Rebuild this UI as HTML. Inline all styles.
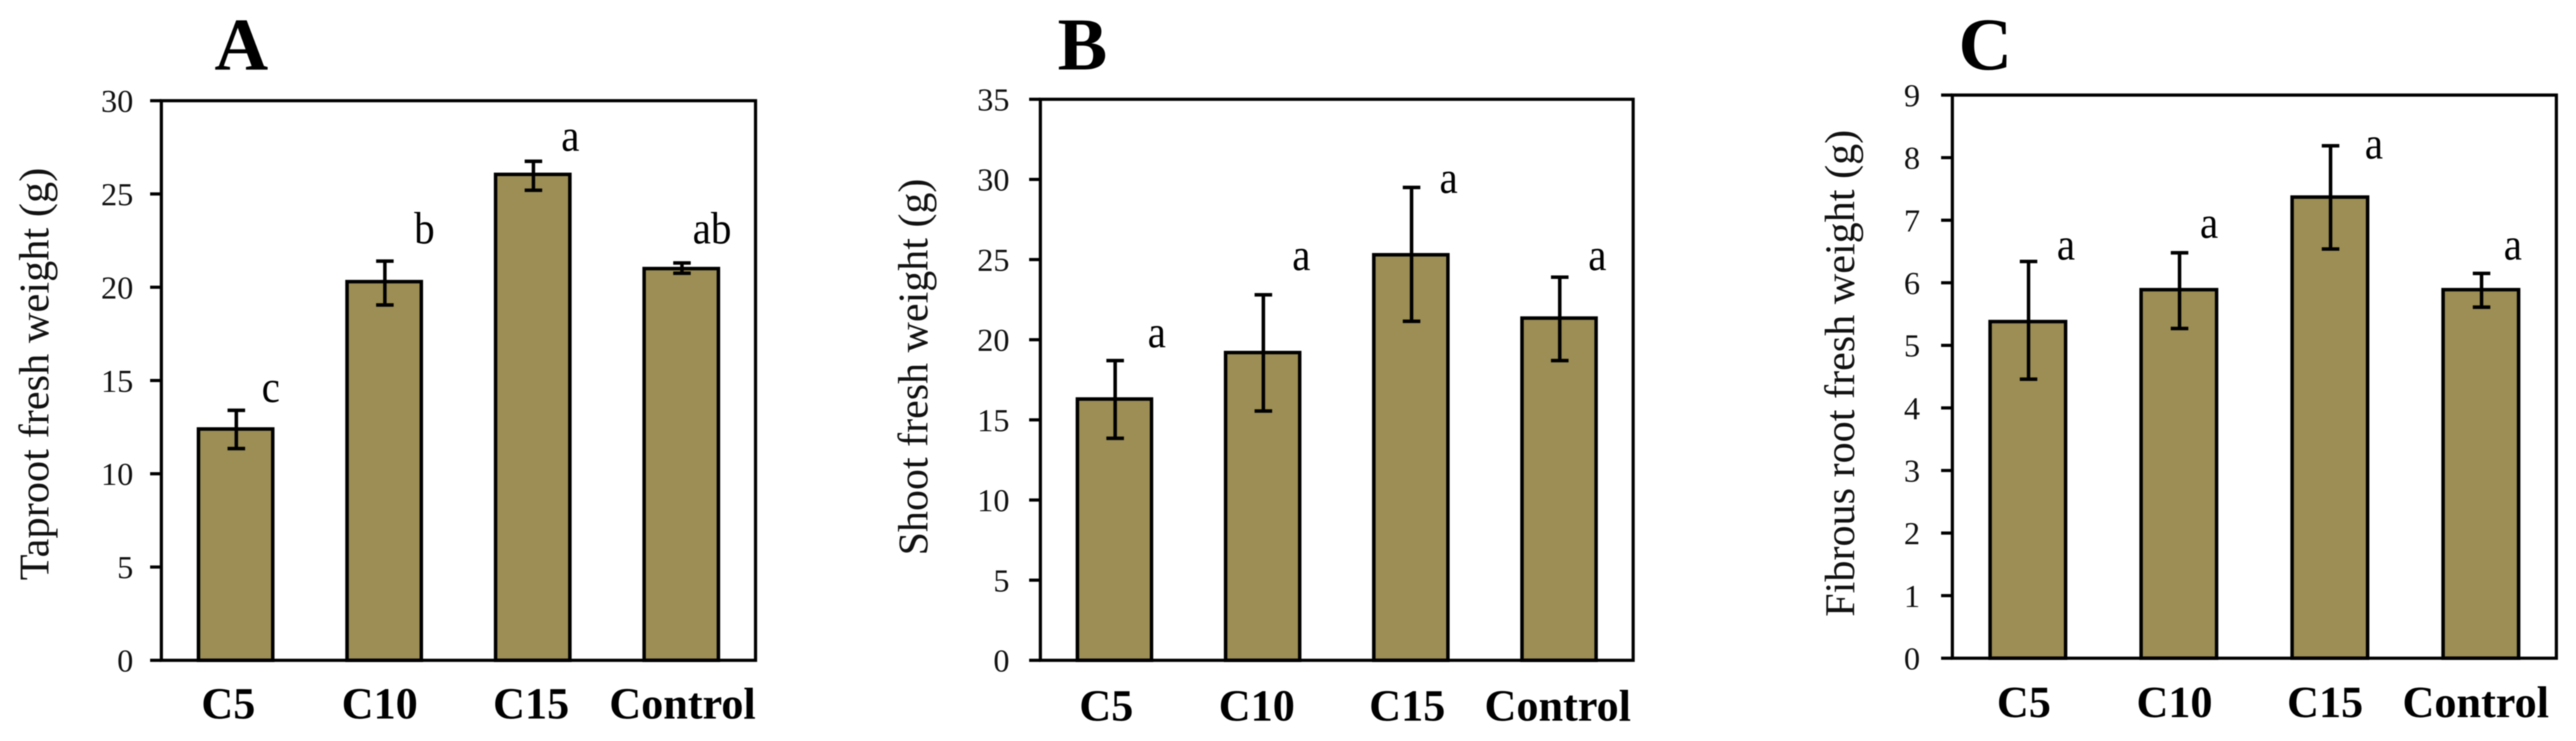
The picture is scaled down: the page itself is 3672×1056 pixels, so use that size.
<!DOCTYPE html>
<html lang="en">
<head>
<meta charset="utf-8">
<title>Fresh weight bar charts</title>
<style>
  html, body { margin: 0; padding: 0; background: #fff; }
  #figure { display: block; width: 3672px; height: 1056px; filter: blur(0.7px); }
  text { font-family: "Liberation Serif", serif; fill: #000; }
  .panel-title { font-size: 106px; font-weight: bold; text-anchor: middle; }
  .sig { font-size: 65px; text-anchor: middle; }
  .tick-label { font-size: 46px; text-anchor: end; fill: #111; }
  .cat-label { font-size: 63px; font-weight: bold; text-anchor: middle; }
  .y-title { font-size: 60px; text-anchor: middle; fill: #111; }
</style>
</head>
<body>
<svg id="figure" xmlns="http://www.w3.org/2000/svg" width="3672" height="1056" viewBox="0 0 3672 1056">
  <rect width="3672" height="1056" fill="#fff"/>

  <g id="panel-a">
    <text class="panel-title" x="344" y="99">A</text>
    <text class="y-title" transform="translate(69 533) rotate(-90)" textLength="588" lengthAdjust="spacingAndGlyphs">Taproot fresh weight (g)</text>
    <text class="sig" transform="translate(386 573) scale(0.9 1)">c</text>
    <text class="sig" transform="translate(605 347) scale(0.9 1)">b</text>
    <text class="sig" transform="translate(813 215) scale(0.9 1)">a</text>
    <text class="sig" transform="translate(1015 347) scale(0.9 1)">ab</text>
  </g>

  <g id="panel-b">
    <text class="panel-title" x="1543" y="99">B</text>
    <text class="y-title" transform="translate(1322 523) rotate(-90)" textLength="537" lengthAdjust="spacingAndGlyphs">Shoot fresh weight (g)</text>
    <text class="sig" transform="translate(1649 495) scale(0.9 1)">a</text>
    <text class="sig" transform="translate(1855 385) scale(0.9 1)">a</text>
    <text class="sig" transform="translate(2065 275) scale(0.9 1)">a</text>
    <text class="sig" transform="translate(2277 385) scale(0.9 1)">a</text>
  </g>

  <g id="panel-c">
    <text class="panel-title" x="2830" y="99">C</text>
    <text class="y-title" transform="translate(2643 532) rotate(-90)" textLength="694" lengthAdjust="spacingAndGlyphs">Fibrous root fresh weight (g)</text>
    <text class="sig" transform="translate(2945 370) scale(0.9 1)">a</text>
    <text class="sig" transform="translate(3149 339) scale(0.9 1)">a</text>
    <text class="sig" transform="translate(3384 226) scale(0.9 1)">a</text>
    <text class="sig" transform="translate(3582 370) scale(0.9 1)">a</text>
  </g>
</svg>

<script>
// ---- chart data ----
const categories = ["C5", "C10", "C15", "Control"];

const taprootTicks = [0, 5, 10, 15, 20, 25, 30];
const taprootMeans = [12.4, 20.3, 26.05, 21.0];
const taprootUpper = [13.4, 21.4, 26.75, 21.3];
const taprootLower = [11.35, 19.05, 25.2, 20.75];

const shootTicks = [0, 5, 10, 15, 20, 25, 30, 35];
const shootMeans = [16.3, 19.2, 25.3, 21.35];
const shootUpper = [18.7, 22.8, 29.5, 23.9];
const shootLower = [13.85, 15.55, 21.15, 18.7];

const fibrousTicks = [0, 1, 2, 3, 4, 5, 6, 7, 8, 9];
const fibrousMeans = [5.38, 5.89, 7.37, 5.89];
const fibrousUpper = [6.34, 6.48, 8.19, 6.15];
const fibrousLower = [4.46, 5.27, 6.54, 5.61];

// ---- layout (independent of the data) ----
const NS = "http://www.w3.org/2000/svg";
const BAR_FILL = "#9c8e54";
const INK = "#000";

function yScale(frame, ticks, value) {
  const max = ticks[ticks.length - 1];
  return frame.bottom - (value / max) * (frame.bottom - frame.top);
}

function xScale(frame, count, index) {
  return frame.left + (index + 0.5) * (frame.right - frame.left) / count;
}

function makeLine(x1, y1, x2, y2, width) {
  const line = document.createElementNS(NS, "line");
  line.setAttribute("x1", x1);
  line.setAttribute("y1", y1);
  line.setAttribute("x2", x2);
  line.setAttribute("y2", y2);
  line.setAttribute("stroke", INK);
  line.setAttribute("stroke-width", width);
  return line;
}

function drawPanel(groupId, prefix, frame, ticks, means, upper, lower) {
  const group = document.getElementById(groupId);
  const count = categories.length;
  const barWidth = 0.5 * (frame.right - frame.left) / count;

  categories.forEach(function (category, i) {
    const cx = xScale(frame, count, i);
    const top = yScale(frame, ticks, means[i]);

    const bar = document.createElementNS(NS, "rect");
    
    
    bar.setAttribute("x", cx - barWidth / 2);
    bar.setAttribute("y", top);
    bar.setAttribute("width", barWidth);
    bar.setAttribute("height", frame.bottom - top);
    bar.setAttribute("fill", BAR_FILL);
    bar.setAttribute("stroke", INK);
    bar.setAttribute("stroke-width", 5);
    group.appendChild(bar);

    const yUp = yScale(frame, ticks, upper[i]);
    const yLow = yScale(frame, ticks, lower[i]);
    const ex = cx + 1;

    const stem = makeLine(ex, yUp, ex, yLow, 5);
    
    
    group.appendChild(stem);

    const capTop = makeLine(ex - 12.5, yUp, ex + 12.5, yUp, 5);
    
    
    group.appendChild(capTop);

    const capLow = makeLine(ex - 12.5, yLow, ex + 12.5, yLow, 5);
    
    
    group.appendChild(capLow);

    const label = document.createElementNS(NS, "text");
    
    
    label.setAttribute("class", "cat-label");
    label.setAttribute("x", frame.labelStart + i * frame.labelStep);
    label.setAttribute("y", frame.labelBaseline);
    label.textContent = category;
    group.appendChild(label);
  });

  const box = document.createElementNS(NS, "rect");
  
  
  box.setAttribute("x", frame.left);
  box.setAttribute("y", frame.top);
  box.setAttribute("width", frame.right - frame.left);
  box.setAttribute("height", frame.bottom - frame.top);
  box.setAttribute("fill", "none");
  box.setAttribute("stroke", INK);
  box.setAttribute("stroke-width", 4.5);
  group.appendChild(box);

  ticks.forEach(function (tick) {
    const y = yScale(frame, ticks, tick);

    const mark = makeLine(frame.left - 16, y, frame.left, y, 4.5);
    
    
    group.appendChild(mark);

    const text = document.createElementNS(NS, "text");
    
    
    text.setAttribute("class", "tick-label");
    text.setAttribute("x", frame.tickRight);
    text.setAttribute("y", y + 16);
    text.textContent = tick;
    group.appendChild(text);
  });
}

drawPanel("panel-a", "taproot",
  { left: 230, right: 1077, top: 143.5, bottom: 941, tickRight: 190, labelStart: 325.5, labelStep: 215.8, labelBaseline: 1024 },
  taprootTicks, taprootMeans, taprootUpper, taprootLower);

drawPanel("panel-b", "shoot",
  { left: 1483, right: 2328, top: 141.5, bottom: 941, tickRight: 1439, labelStart: 1577, labelStep: 214.5, labelBaseline: 1027 },
  shootTicks, shootMeans, shootUpper, shootLower);

drawPanel("panel-c", "fibrous",
  { left: 2783, right: 3644, top: 135.5, bottom: 938, tickRight: 2737, labelStart: 2885, labelStep: 214.7, labelBaseline: 1022 },
  fibrousTicks, fibrousMeans, fibrousUpper, fibrousLower);
</script>
</body>
</html>
